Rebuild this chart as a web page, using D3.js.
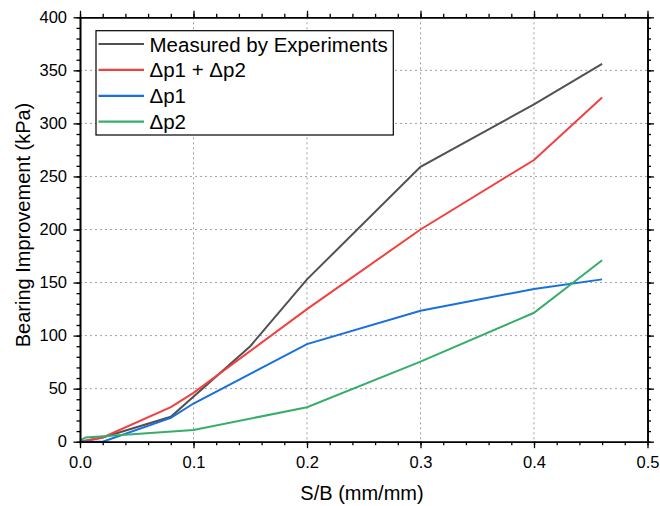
<!DOCTYPE html>
<html><head><meta charset="utf-8">
<script src="https://cdn.jsdelivr.net/npm/d3@7"></script>
<style>body{margin:0;background:#fff;} svg{display:block;font-family:"Liberation Sans",Arial,sans-serif;}</style>
</head><body>
<svg id="c" width="660" height="506"></svg>
<script>
const seriesNames = ["Measured by Experiments", "\u0394p1 + \u0394p2", "\u0394p1", "\u0394p2"];
const seriesColors = ["#515151", "#F14040", "#1A6FDF", "#37AD6B"];
const measuredX = [0, 0.02, 0.08, 0.15, 0.2, 0.3, 0.4, 0.46];
const measuredY = [0, 4, 23.5, 90, 153, 259, 318, 356];
const sumX = [0, 0.02, 0.08, 0.1, 0.2, 0.3, 0.4, 0.46];
const sumY = [0, 4, 32.5, 46, 125, 200, 265.5, 324.5];
const p1X = [0, 0.02, 0.08, 0.1, 0.2, 0.3, 0.4, 0.46];
const p1Y = [0, 0, 22.5, 36, 92, 123.5, 144, 153];
const p2X = [0, 0.005, 0.1, 0.2, 0.3, 0.4, 0.46];
const p2Y = [1, 4, 11, 32.5, 75.5, 121.5, 171];
const xTicks = [0, 0.1, 0.2, 0.3, 0.4, 0.5];
const yTicks = [0, 50, 100, 150, 200, 250, 300, 350, 400];

const svg = d3.select("#c");
const L = 80, R = 647.5, T = 17.3, B = 441.7;
const x = d3.scaleLinear().domain([0, 0.5]).range([L, R]);
const y = d3.scaleLinear().domain([0, 400]).range([B, T]);

// grid
const g = svg.append("g");
xTicks.slice(1, -1).forEach(t => g.append("line").attr("x1", x(t)).attr("x2", x(t)).attr("y1", T).attr("y2", B)
  .attr("stroke", "#a0a0a0").attr("stroke-width", 1).attr("stroke-dasharray", "2,3"));
yTicks.slice(1, -1).forEach(t => g.append("line").attr("x1", L).attr("x2", R).attr("y1", y(t)).attr("y2", y(t))
  .attr("stroke", "#a0a0a0").attr("stroke-width", 1).attr("stroke-dasharray", "2,3"));

// lines
const data = [[measuredX, measuredY], [sumX, sumY], [p1X, p1Y], [p2X, p2Y]];
const line = d3.line().x(d => x(d[0])).y(d => y(d[1]));
data.forEach((s, i) => {
  const pts = s[0].map((v, k) => [v, s[1][k]]);
  svg.append("path").attr("d", line(pts)).attr("fill", "none")
    .attr("stroke", seriesColors[i]).attr("stroke-width", 2).attr("stroke-linejoin", "miter");
});

// axes
const xMinor = d3.range(0, 0.5001, 0.02);
const yMinor = d3.range(0, 400.1, 10);
function addAxis(axisGen, transform, labels) {
  const a = svg.append("g").attr("transform", transform).call(axisGen);
  a.attr("font-family", null).attr("font-size", null);
  a.select(".domain").attr("stroke", "#000").attr("stroke-width", 1.6);
  a.selectAll(".tick line").attr("stroke", "#000").attr("stroke-width", 1.3);
  a.selectAll("text").attr("font-size", 16.5).attr("fill", "#000");
  if (!labels) a.selectAll("text").remove();
  return a;
}
const MAJ = 6.5, MIN = 3.5;
addAxis(d3.axisBottom(x).tickValues(xTicks).tickFormat(d3.format(".1f")).tickSizeInner(MAJ).tickSizeOuter(0).tickPadding(8.5), `translate(0,${B})`, true);
addAxis(d3.axisBottom(x).tickValues(xMinor).tickFormat("").tickSize(MIN).tickSizeOuter(0), `translate(0,${B})`, false);
addAxis(d3.axisTop(x).tickValues(xTicks).tickFormat("").tickSizeInner(MAJ).tickSizeOuter(0), `translate(0,${T})`, false);
addAxis(d3.axisTop(x).tickValues(xMinor).tickFormat("").tickSize(MIN).tickSizeOuter(0), `translate(0,${T})`, false);
addAxis(d3.axisLeft(y).tickValues(yTicks).tickFormat(d3.format("d")).tickSizeInner(MAJ).tickSizeOuter(0).tickPadding(6.5), `translate(${L},0)`, true);
addAxis(d3.axisLeft(y).tickValues(yMinor).tickFormat("").tickSize(MIN).tickSizeOuter(0), `translate(${L},0)`, false);
addAxis(d3.axisRight(y).tickValues(yTicks).tickFormat("").tickSizeInner(MAJ).tickSizeOuter(0), `translate(${R},0)`, false);
addAxis(d3.axisRight(y).tickValues(yMinor).tickFormat("").tickSize(MIN).tickSizeOuter(0), `translate(${R},0)`, false);

// titles
svg.append("text").attr("x", 362).attr("y", 500).attr("text-anchor", "middle")
  .attr("font-size", 20).text("S/B (mm/mm)");
svg.append("text").attr("transform", `translate(29.5,225) rotate(-90)`).attr("text-anchor", "middle")
  .attr("font-size", 20).text("Bearing Improvement (kPa)");

// legend
const lg = svg.append("g");
lg.append("rect").attr("x", 96).attr("y", 30.7).attr("width", 297.3).attr("height", 104.3)
  .attr("fill", "#fff").attr("stroke", "#000").attr("stroke-width", 1.2);
seriesNames.forEach((n, i) => {
  const cy = 44 + i * 25.9;
  lg.append("line").attr("x1", 98.5).attr("x2", 144).attr("y1", cy).attr("y2", cy)
    .attr("stroke", seriesColors[i]).attr("stroke-width", 2.2);
  lg.append("text").attr("x", 149.5).attr("y", cy + 7.5).attr("font-size", 20.5).text(n);
});
</script>
</body></html>
